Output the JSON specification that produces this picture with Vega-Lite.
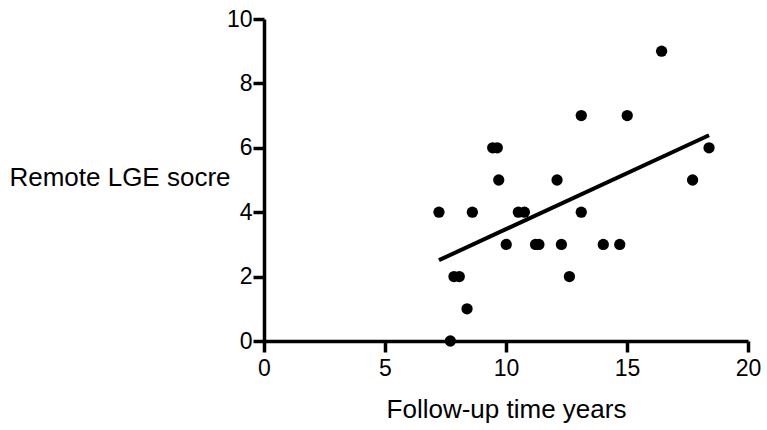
{
  "$schema": "https://vega.github.io/schema/vega-lite/v6.json",
  "width": 484,
  "height": 322,
  "autosize": {"type": "none"},
  "padding": {"left": 264, "top": 19, "right": 19, "bottom": 89},
  "background": "white",
  "config": {
    "view": {"stroke": null},
    "font": "Liberation Sans"
  },
  "datasets": {
    "patients": [
      {"years": 7.23, "score": 4},
      {"years": 7.70, "score": 0},
      {"years": 7.85, "score": 2},
      {"years": 8.07, "score": 2},
      {"years": 8.39, "score": 1},
      {"years": 8.61, "score": 4},
      {"years": 9.45, "score": 6},
      {"years": 9.64, "score": 6},
      {"years": 9.70, "score": 5},
      {"years": 10.01, "score": 3},
      {"years": 10.51, "score": 4},
      {"years": 10.76, "score": 4},
      {"years": 11.22, "score": 3},
      {"years": 11.36, "score": 3},
      {"years": 12.11, "score": 5},
      {"years": 12.29, "score": 3},
      {"years": 12.62, "score": 2},
      {"years": 13.11, "score": 7},
      {"years": 13.11, "score": 4},
      {"years": 14.02, "score": 3},
      {"years": 14.70, "score": 3},
      {"years": 15.01, "score": 7},
      {"years": 16.43, "score": 9},
      {"years": 17.71, "score": 5},
      {"years": 18.39, "score": 6}
    ],
    "fit": [
      {"years": 7.23, "score": 2.51},
      {"years": 18.39, "score": 6.39}
    ]
  },
  "layer": [
    {
      "data": {"name": "fit"},
      "mark": {"type": "line", "color": "black", "strokeWidth": 4, "strokeCap": "butt"},
      "encoding": {
        "x": {
          "field": "years",
          "type": "quantitative",
          "scale": {"domain": [0, 20], "nice": false, "zero": false},
          "axis": {
            "values": [0, 5, 10, 15, 20],
            "title": "Follow-up time years",
            "grid": false,
            "domainColor": "black",
            "domainWidth": 3.5,
            "tickColor": "black",
            "tickWidth": 3.5,
            "tickSize": 11,
            "labelFlush": false,
            "labelColor": "black",
            "labelFont": "Liberation Sans",
            "labelFontSize": 23,
            "labelPadding": 5,
            "titleColor": "black",
            "titleFont": "Liberation Sans",
            "titleFontSize": 26,
            "titleFontWeight": "normal",
            "titleY": 76,
            "titleBaseline": "alphabetic"
          }
        },
        "y": {
          "field": "score",
          "type": "quantitative",
          "scale": {"domain": [0, 10], "nice": false},
          "axis": {
            "values": [0, 2, 4, 6, 8, 10],
            "title": "Remote LGE socre",
            "grid": false,
            "domainColor": "black",
            "domainWidth": 3.5,
            "tickColor": "black",
            "tickWidth": 3.5,
            "tickSize": 11,
            "labelFlush": false,
            "labelColor": "black",
            "labelFont": "Liberation Sans",
            "labelFontSize": 23,
            "labelPadding": 1,
            "titleColor": "black",
            "titleFont": "Liberation Sans",
            "titleFontSize": 26,
            "titleFontWeight": "normal",
            "titleAngle": 0,
            "titleX": -34,
            "titleY": 158,
            "titleAlign": "right",
            "titleBaseline": "middle"
          }
        }
      }
    },
    {
      "data": {"name": "patients"},
      "mark": {"type": "point", "filled": true, "color": "black", "opacity": 1, "size": 127},
      "encoding": {
        "x": {"field": "years", "type": "quantitative"},
        "y": {"field": "score", "type": "quantitative"}
      }
    }
  ]
}
